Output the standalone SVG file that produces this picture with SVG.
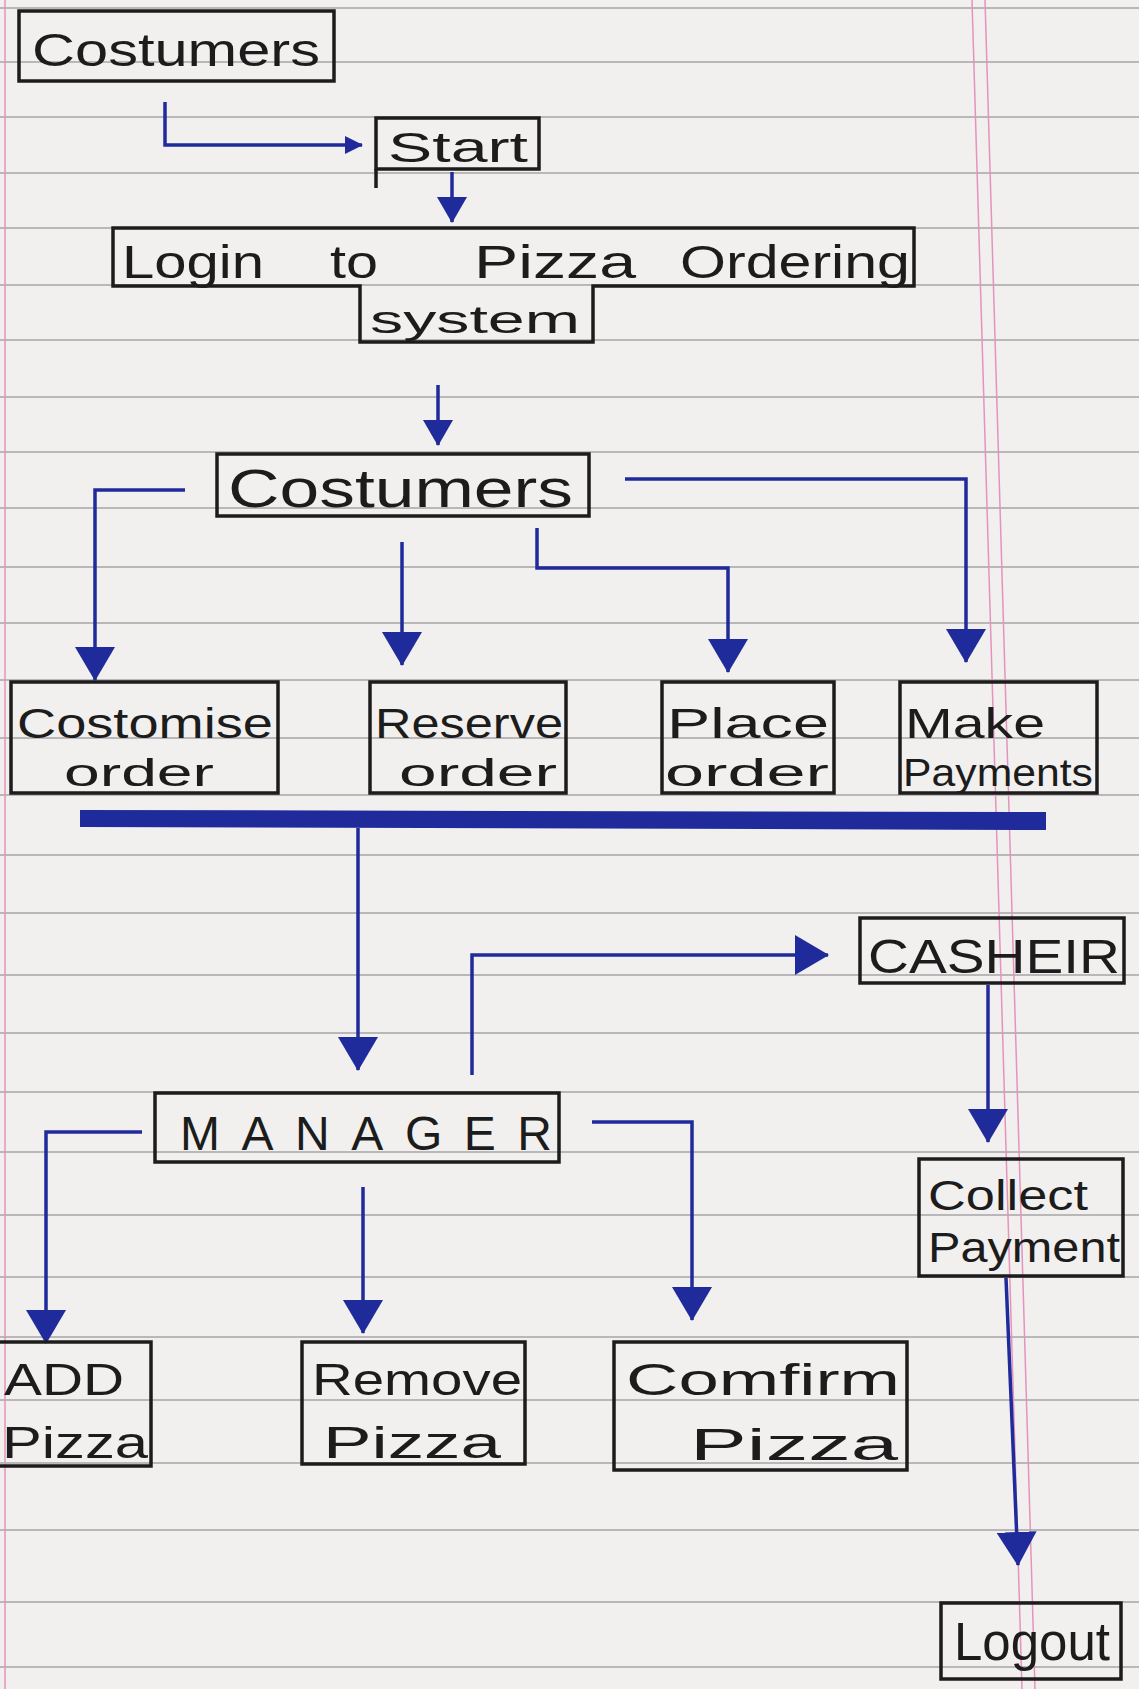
<svg xmlns="http://www.w3.org/2000/svg" width="1139" height="1689" viewBox="0 0 1139 1689">
<defs>
<style>
.bg{fill:#f2f0ee}
.rule{stroke:#a6a4a8;stroke-width:2;opacity:.75}
.margin{stroke:#e493bd;stroke-width:1.5;fill:none}
.box{fill:none;stroke:#1c1c1c;stroke-width:3.5;stroke-linejoin:miter}
.t{font-family:"Liberation Sans","DejaVu Sans",sans-serif;fill:#1c1c1c}
.c{fill:none;stroke:#1f2b9b;stroke-width:3.5}
.bar{fill:#1f2b9b}
</style>
<marker id="big" markerUnits="userSpaceOnUse" viewBox="0 0 34 40" markerWidth="34" markerHeight="40" refX="33" refY="20" orient="auto"><path d="M0,0 L34,20 L0,40 z" fill="#1f2b9b"/></marker>
<marker id="mid" markerUnits="userSpaceOnUse" viewBox="0 0 26 30" markerWidth="26" markerHeight="30" refX="25" refY="15" orient="auto"><path d="M0,0 L26,15 L0,30 z" fill="#1f2b9b"/></marker>
<marker id="small" markerUnits="userSpaceOnUse" viewBox="0 0 18 18" markerWidth="18" markerHeight="18" refX="17" refY="9" orient="auto"><path d="M0,0 L18,9 L0,18 z" fill="#1f2b9b"/></marker>
</defs>

<g id="paper">
<rect class="bg" x="0" y="0" width="1139" height="1689"/>
<g class="rule">
<line x1="0" y1="8" x2="1139" y2="8"/>
<line x1="0" y1="62" x2="1139" y2="62"/>
<line x1="0" y1="117" x2="1139" y2="117"/>
<line x1="0" y1="173" x2="1139" y2="173"/>
<line x1="0" y1="228" x2="1139" y2="228"/>
<line x1="0" y1="285" x2="1139" y2="285"/>
<line x1="0" y1="340" x2="1139" y2="340"/>
<line x1="0" y1="397" x2="1139" y2="397"/>
<line x1="0" y1="452" x2="1139" y2="452"/>
<line x1="0" y1="508" x2="1139" y2="508"/>
<line x1="0" y1="567" x2="1139" y2="567"/>
<line x1="0" y1="623" x2="1139" y2="623"/>
<line x1="0" y1="680" x2="1139" y2="680"/>
<line x1="0" y1="738" x2="1139" y2="738"/>
<line x1="0" y1="795" x2="1139" y2="795"/>
<line x1="0" y1="855" x2="1139" y2="855"/>
<line x1="0" y1="913" x2="1139" y2="913"/>
<line x1="0" y1="975" x2="1139" y2="975"/>
<line x1="0" y1="1033" x2="1139" y2="1033"/>
<line x1="0" y1="1092" x2="1139" y2="1092"/>
<line x1="0" y1="1152" x2="1139" y2="1152"/>
<line x1="0" y1="1215" x2="1139" y2="1215"/>
<line x1="0" y1="1277" x2="1139" y2="1277"/>
<line x1="0" y1="1337" x2="1139" y2="1337"/>
<line x1="0" y1="1400" x2="1139" y2="1400"/>
<line x1="0" y1="1463" x2="1139" y2="1463"/>
<line x1="0" y1="1530" x2="1139" y2="1530"/>
<line x1="0" y1="1602" x2="1139" y2="1602"/>
<line x1="0" y1="1667" x2="1139" y2="1667"/>
</g>
<line class="margin" x1="5" y1="0" x2="5" y2="1689"/>
<line class="margin" x1="972" y1="0" x2="1022" y2="1689"/>
<line class="margin" x1="985" y1="0" x2="1035" y2="1689"/>
</g>

<g id="connectors">
<path class="c" d="M165,102 V145 H362" marker-end="url(#small)"/>
<path class="c" d="M452,172 V222" marker-end="url(#mid)"/>
<path class="c" d="M438,385 V445" marker-end="url(#mid)"/>
<path class="c" d="M185,490 H95 V680" marker-end="url(#big)"/>
<path class="c" d="M402,542 V665" marker-end="url(#big)"/>
<path class="c" d="M537,528 V568 H728 V672" marker-end="url(#big)"/>
<path class="c" d="M625,479 H966 V662" marker-end="url(#big)"/>
<polygon class="bar" points="80,810 1046,812 1046,830 80,827"/>
<path class="c" d="M358,828 V1070" marker-end="url(#big)"/>
<path class="c" d="M472,1075 V955 H828" marker-end="url(#big)"/>
<path class="c" d="M988,985 V1142" marker-end="url(#big)"/>
<path class="c" d="M142,1132 H46 V1343" marker-end="url(#big)"/>
<path class="c" d="M363,1187 V1333" marker-end="url(#big)"/>
<path class="c" d="M592,1122 H692 V1320" marker-end="url(#big)"/>
<path class="c" d="M1006,1278 L1018,1565" marker-end="url(#big)"/>
</g>

<g id="costumers-top">
<rect class="box" x="19" y="11" width="315" height="70"/>
<text class="t" x="32" y="66" font-size="46" textLength="288" lengthAdjust="spacingAndGlyphs">Costumers</text>
</g>

<g id="start">
<rect class="box" x="376" y="118" width="163" height="51"/>
<line class="box" x1="376" y1="169" x2="376" y2="188"/>
<text class="t" x="388" y="162" font-size="42" textLength="140" lengthAdjust="spacingAndGlyphs">Start</text>
</g>

<g id="login">
<path class="box" d="M113,228 H914 V286 H593 V342 H360 V286 H113 Z"/>
<text class="t" y="278" font-size="46"><tspan x="122" textLength="142" lengthAdjust="spacingAndGlyphs">Login</tspan> <tspan x="330" textLength="48" lengthAdjust="spacingAndGlyphs">to</tspan> <tspan x="474" textLength="162" lengthAdjust="spacingAndGlyphs">Pizza</tspan> <tspan x="680" textLength="230" lengthAdjust="spacingAndGlyphs">Ordering</tspan></text>
<text class="t" x="370" y="333" font-size="38" textLength="210" lengthAdjust="spacingAndGlyphs">system</text>
</g>

<g id="costumers-mid">
<rect class="box" x="217" y="454" width="372" height="62"/>
<text class="t" x="228" y="507" font-size="54" textLength="345" lengthAdjust="spacingAndGlyphs">Costumers</text>
</g>

<g id="customise-order">
<rect class="box" x="11" y="682" width="267" height="111"/>
<text class="t" x="17" y="738" font-size="42" textLength="256" lengthAdjust="spacingAndGlyphs">Costomise</text>
<text class="t" x="64" y="786" font-size="38" textLength="150" lengthAdjust="spacingAndGlyphs">order</text>
</g>

<g id="reserve-order">
<rect class="box" x="370" y="682" width="196" height="111"/>
<text class="t" x="375" y="738" font-size="42" textLength="188" lengthAdjust="spacingAndGlyphs">Reserve</text>
<text class="t" x="399" y="786" font-size="38" textLength="158" lengthAdjust="spacingAndGlyphs">order</text>
</g>

<g id="place-order">
<rect class="box" x="662" y="682" width="172" height="111"/>
<text class="t" x="667" y="738" font-size="42" textLength="162" lengthAdjust="spacingAndGlyphs">Place</text>
<text class="t" x="665" y="786" font-size="38" textLength="164" lengthAdjust="spacingAndGlyphs">order</text>
</g>

<g id="make-payments">
<rect class="box" x="900" y="682" width="197" height="111"/>
<text class="t" x="905" y="738" font-size="42" textLength="140" lengthAdjust="spacingAndGlyphs">Make</text>
<text class="t" x="903" y="786" font-size="38" textLength="190" lengthAdjust="spacingAndGlyphs">Payments</text>
</g>

<g id="casheir">
<rect class="box" x="860" y="918" width="264" height="65"/>
<text class="t" x="868" y="973" font-size="48" textLength="252" lengthAdjust="spacingAndGlyphs">CASHEIR</text>
</g>

<g id="manager">
<rect class="box" x="155" y="1093" width="404" height="69"/>
<text class="t" x="180" y="1150" font-size="48" textLength="372" lengthAdjust="spacing">MANAGER</text>
</g>

<g id="collect-payment">
<rect class="box" x="919" y="1159" width="204" height="117"/>
<text class="t" x="928" y="1210" font-size="42" textLength="160" lengthAdjust="spacingAndGlyphs">Collect</text>
<text class="t" x="928" y="1262" font-size="42" textLength="192" lengthAdjust="spacingAndGlyphs">Payment</text>
</g>

<g id="add-pizza">
<rect class="box" x="-5" y="1342" width="156" height="124"/>
<text class="t" x="4" y="1395" font-size="44" textLength="120" lengthAdjust="spacingAndGlyphs">ADD</text>
<text class="t" x="2" y="1458" font-size="44" textLength="146" lengthAdjust="spacingAndGlyphs">Pizza</text>
</g>

<g id="remove-pizza">
<rect class="box" x="302" y="1342" width="223" height="122"/>
<text class="t" x="312" y="1395" font-size="44" textLength="210" lengthAdjust="spacingAndGlyphs">Remove</text>
<text class="t" x="323" y="1458" font-size="44" textLength="178" lengthAdjust="spacingAndGlyphs">Pizza</text>
</g>

<g id="comfirm-pizza">
<rect class="box" x="614" y="1342" width="293" height="128"/>
<text class="t" x="626" y="1395" font-size="44" textLength="274" lengthAdjust="spacingAndGlyphs">Comfirm</text>
<text class="t" x="690" y="1460" font-size="44" textLength="208" lengthAdjust="spacingAndGlyphs">Pizza</text>
</g>

<g id="logout">
<rect class="box" x="941" y="1603" width="180" height="76"/>
<text class="t" x="954" y="1660" font-size="54" textLength="156" lengthAdjust="spacingAndGlyphs">Logout</text>
</g>
</svg>
